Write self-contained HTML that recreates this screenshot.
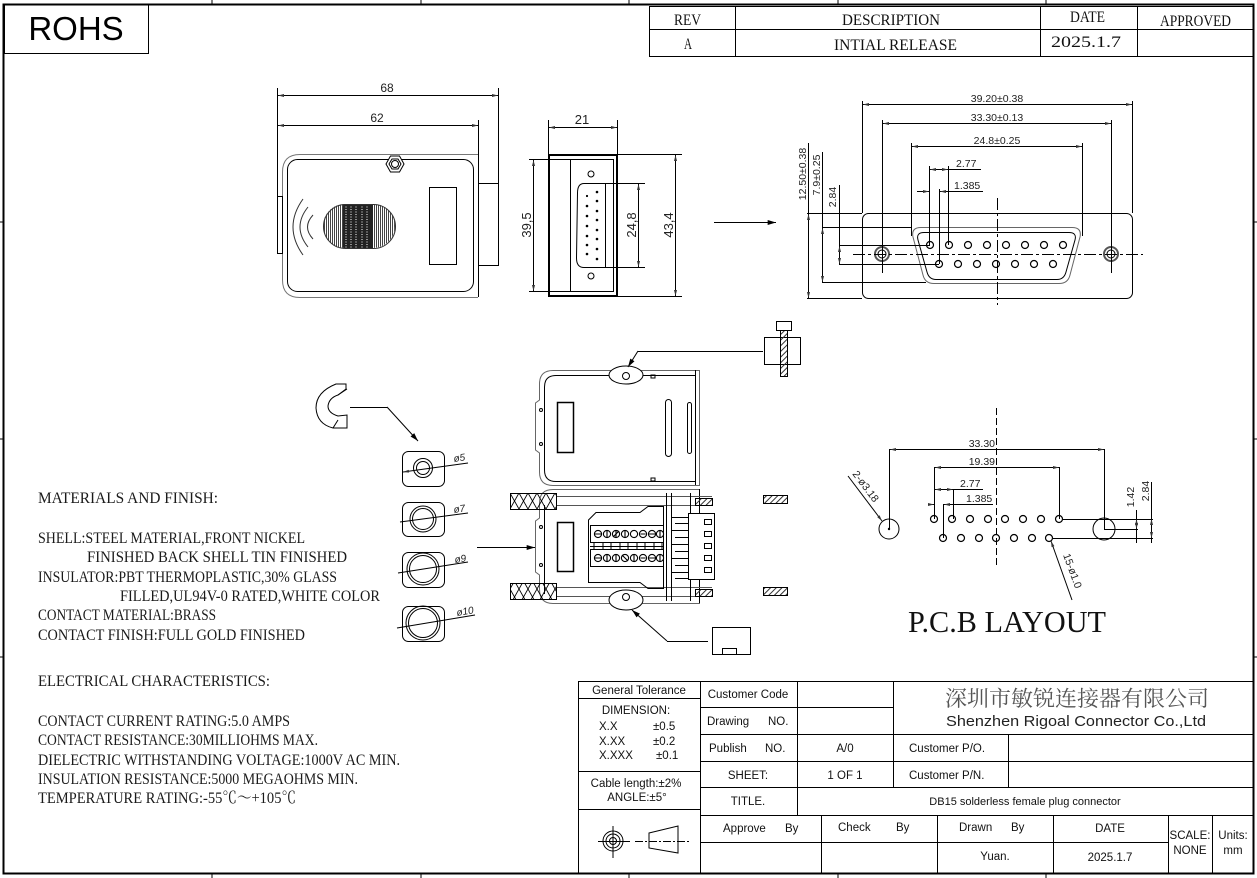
<!DOCTYPE html>
<html><head><meta charset="utf-8"><style>
html,body{margin:0;padding:0;background:#fff;}
svg{display:block;}
</style></head><body>
<svg width="1257" height="878" viewBox="0 0 1257 878" xmlns="http://www.w3.org/2000/svg" font-family="Liberation Sans, sans-serif">
<defs>
<marker id="ar" viewBox="0 0 8 4" refX="8" refY="2" markerWidth="7" markerHeight="3" markerUnits="userSpaceOnUse" orient="auto-start-reverse"><path d="M0,0 L8,2 L0,4 Z" fill="#333"/></marker>
<marker id="af" viewBox="0 0 10 6" refX="10" refY="3" markerWidth="9" markerHeight="5" markerUnits="userSpaceOnUse" orient="auto-start-reverse"><path d="M0,0 L10,3 L0,6 Z" fill="#000"/></marker>
<pattern id="vs" width="2" height="2" patternUnits="userSpaceOnUse"><rect x="0" y="0" width="1" height="2" fill="#444"/></pattern>
<pattern id="dh" width="4" height="4" patternUnits="userSpaceOnUse" patternTransform="rotate(45)"><rect x="0" y="0" width="1" height="4" fill="#333"/></pattern>
<pattern id="xh" width="9" height="16" patternUnits="userSpaceOnUse" x="510" y="493"><path d="M0,0 L9,16 M9,0 L0,16" stroke="#000" stroke-width="0.9" fill="none"/></pattern>
<clipPath id="ov"><rect x="323" y="204" width="72" height="44" rx="22"/></clipPath>
</defs>

<!-- frame -->
<rect x="3.5" y="4.5" width="1250" height="869" fill="none" stroke="#000" stroke-width="2"/>
<g stroke="#000" stroke-width="1">
<path d="M212 0V4 M421 0V4 M629 0V4 M838 0V4 M1046 0V4 M212 874V878 M421 874V878 M629 874V878 M838 874V878 M1046 874V878 M0 222H3 M0 439H3 M0 657H3 M1254 222H1257 M1254 439H1257 M1254 657H1257"/>
</g>

<!-- ROHS -->
<rect x="4.5" y="4.5" width="144" height="49" fill="none" stroke="#000" stroke-width="1"/>
<text x="76" y="40" font-size="33" text-anchor="middle" fill="#000">ROHS</text>

<!-- Rev table -->
<g fill="none" stroke="#000" stroke-width="1">
<rect x="649.5" y="6.5" width="604" height="50"/>
<path d="M649 29.5H1253 M735.5 6V56 M1040.5 6V56 M1137.5 6V56"/>
</g>
<g font-family="Liberation Serif, serif" font-size="16" fill="#111">
<text x="674" y="25" textLength="27" lengthAdjust="spacingAndGlyphs">REV</text>
<text x="842" y="25" textLength="98" lengthAdjust="spacingAndGlyphs">DESCRIPTION</text>
<text x="1070" y="22" textLength="35" lengthAdjust="spacingAndGlyphs">DATE</text>
<text x="1160" y="26" textLength="71" lengthAdjust="spacingAndGlyphs">APPROVED</text>
<text x="684" y="49" textLength="8" lengthAdjust="spacingAndGlyphs">A</text>
<text x="834" y="50" textLength="123" lengthAdjust="spacingAndGlyphs">INTIAL RELEASE</text>
<text x="1051" y="47" textLength="70" lengthAdjust="spacingAndGlyphs">2025.1.7</text>
</g>

<!-- Drawing 1: side view -->
<g fill="none" stroke="#000" stroke-width="1">
<path d="M277.5 88V253 M498.5 88V265 M478.5 120V297"/>
<line x1="278" y1="95.5" x2="498" y2="95.5" marker-start="url(#ar)" marker-end="url(#ar)"/>
<line x1="278" y1="125.5" x2="478" y2="125.5" marker-start="url(#ar)" marker-end="url(#ar)"/>
<path d="M478 154.5H300Q282.5 154.5 282.5 172V280Q282.5 297.5 300 297.5H478" stroke="#777"/>
<rect x="287.5" y="159.5" width="186" height="132" rx="10"/>
<rect x="277.5" y="196.5" width="5" height="57"/>
<rect x="478.5" y="183.5" width="20" height="82"/>
<polygon points="404,164 399.5,172 390.5,172 386,164 390.5,156 399.5,156" fill="#fff"/>
<polygon points="401,164 398,169 392,169 389,164 392,159 398,159"/>
<circle cx="395" cy="164" r="3.5"/>
<rect x="429.5" y="187.5" width="27" height="77"/>
<path d="M303 199Q283 227 303 255 M308 207Q292 227 308 247 M313 215Q302 227 313 239" stroke="#333"/>
</g>
<g clip-path="url(#ov)">
<rect x="323" y="204" width="72" height="44" fill="url(#vs)"/>
<rect x="343" y="204" width="30" height="44" fill="#222"/>
<path d="M346 204V248 M351 204V248 M356 204V248 M362 204V248 M367 204V248" stroke="#fff" stroke-width="1" stroke-dasharray="1 1.5"/>
</g>
<rect x="323.5" y="204.5" width="72" height="44" rx="22" fill="none" stroke="#333"/>
<g font-size="12" fill="#222" text-anchor="middle">
<text x="387" y="92">68</text>
<text x="377" y="122">62</text>
</g>

<!-- Drawing 2: front view -->
<g fill="none" stroke="#000" stroke-width="1">
<path d="M548.5 120V154 M617.5 120V154"/>
<line x1="549" y1="127.5" x2="617" y2="127.5" marker-start="url(#ar)" marker-end="url(#ar)"/>
<rect x="549" y="155" width="68" height="141" stroke-width="2"/>
<rect x="570.5" y="159.5" width="43" height="132"/>
<path d="M529 159.5H570 M529 291.5H570 M593 183.5H645 M593 267.5H645 M617 154.5H682 M617 296.5H682"/>
<line x1="533.5" y1="160" x2="533.5" y2="291" marker-start="url(#ar)" marker-end="url(#ar)"/>
<line x1="638.5" y1="184" x2="638.5" y2="267" marker-start="url(#ar)" marker-end="url(#ar)"/>
<line x1="675.5" y1="155" x2="675.5" y2="296" marker-start="url(#ar)" marker-end="url(#ar)"/>
<path d="M584 183.5H605.5V267.5H584Q576.5 267.5 576.5 258L577.5 193Q577.5 183.5 584 183.5Z"/>
<circle cx="591" cy="174" r="3"/><circle cx="591" cy="276" r="3"/>
</g>
<g fill="#000">
<circle cx="587" cy="196" r="1.1"/><circle cx="587" cy="206" r="1.3"/><circle cx="587" cy="216" r="1.3"/><circle cx="587" cy="226" r="1.3"/><circle cx="587" cy="236" r="1.3"/><circle cx="587" cy="245" r="1.3"/><circle cx="587" cy="254" r="1.3"/>
<circle cx="597" cy="192" r="1.3"/><circle cx="597" cy="201" r="1.3"/><circle cx="597" cy="211" r="1.3"/><circle cx="597" cy="220" r="1.3"/><circle cx="597" cy="230" r="1.3"/><circle cx="597" cy="239" r="1.3"/><circle cx="597" cy="249" r="1.3"/><circle cx="597" cy="259" r="1.3"/>
</g>
<g font-size="13" fill="#222" text-anchor="middle">
<text x="582" y="124">21</text>
<text transform="translate(531,225) rotate(-90)">39,5</text>
<text transform="translate(636,225) rotate(-90)">24,8</text>
<text transform="translate(673,225) rotate(-90)">43,4</text>
</g>
<line x1="714" y1="222.5" x2="776" y2="222.5" stroke="#000" marker-end="url(#af)"/>

<!-- Drawing 3: DB15 face -->
<g fill="none" stroke="#000" stroke-width="1">
<rect x="862.5" y="213.5" width="270" height="85" rx="6"/>
<path d="M921 227.5L1072 227.5Q1082 227.5 1080 237L1070 275Q1068 283.5 1059 283.5L934 283.5Q925 283.5 923 275L913 237Q911 227.5 921 227.5Z" stroke="#666"/>
<path d="M924 232.5L1069 232.5Q1077 232.5 1075 240L1066 272Q1064 279.5 1057 279.5L936 279.5Q929 279.5 927 272L918 240Q916 232.5 924 232.5Z"/>
<circle cx="882" cy="254" r="7" stroke="#555" stroke-width="2"/><circle cx="882" cy="254" r="4"/>
<circle cx="1111" cy="254" r="7" stroke="#555" stroke-width="2"/><circle cx="1111" cy="254" r="4"/>
<path d="M853 254.5H1143" stroke-dasharray="12 3 3 3"/>
<path d="M997.5 198V305" stroke-dasharray="12 3 3 3"/>
<path d="M862.5 101V213 M1132.5 101V213 M882.5 120V273 M1111.5 120V273 M911.5 143V236 M1082.5 143V236 M929.5 166V245 M948.5 166V245 M939.5 189V264"/>
<line x1="863" y1="104.5" x2="1132" y2="104.5" marker-start="url(#ar)" marker-end="url(#ar)"/>
<line x1="883" y1="123.5" x2="1111" y2="123.5" marker-start="url(#ar)" marker-end="url(#ar)"/>
<line x1="912" y1="146.5" x2="1082" y2="146.5" marker-start="url(#ar)" marker-end="url(#ar)"/>
<line x1="930" y1="169.5" x2="948" y2="169.5" marker-start="url(#ar)" marker-end="url(#ar)"/>
<path d="M948 169.5H981"/>
<line x1="917" y1="191.5" x2="929" y2="191.5" marker-end="url(#ar)"/>
<line x1="983" y1="191.5" x2="940" y2="191.5" marker-end="url(#ar)"/>
<path d="M807 213.5H862 M807 298.5H862 M822 227.5H911 M822 282.5H926 M839 245.5H930 M839 264.5H939"/>
<path d="M808.5 143V213 M822.5 152V227 M839.5 185V245"/>
<line x1="808.5" y1="214" x2="808.5" y2="298" marker-start="url(#ar)" marker-end="url(#ar)"/>
<line x1="822.5" y1="228" x2="822.5" y2="282" marker-start="url(#ar)" marker-end="url(#ar)"/>
<line x1="839.5" y1="246" x2="839.5" y2="264" marker-start="url(#ar)" marker-end="url(#ar)"/>
<g stroke-width="1.2">
<circle cx="930" cy="245" r="3.5"/><circle cx="949" cy="245" r="3.5"/><circle cx="968" cy="245" r="3.5"/><circle cx="987" cy="245" r="3.5"/><circle cx="1006" cy="245" r="3.5"/><circle cx="1025" cy="245" r="3.5"/><circle cx="1044" cy="245" r="3.5"/><circle cx="1063" cy="245" r="3.5"/>
<circle cx="939" cy="264" r="3.5"/><circle cx="958" cy="264" r="3.5"/><circle cx="977" cy="264" r="3.5"/><circle cx="996" cy="264" r="3.5"/><circle cx="1015" cy="264" r="3.5"/><circle cx="1034" cy="264" r="3.5"/><circle cx="1053" cy="264" r="3.5"/>
</g>
</g>
<g font-size="10.5" fill="#222">
<text x="997" y="102" text-anchor="middle">39.20±0.38</text>
<text x="997" y="121" text-anchor="middle">33.30±0.13</text>
<text x="997" y="144" text-anchor="middle">24.8±0.25</text>
<text x="956" y="167">2.77</text>
<text x="954" y="189">1.385</text>
<text transform="translate(806,174) rotate(-90)" text-anchor="middle">12.50±0.38</text>
<text transform="translate(820,175) rotate(-90)" text-anchor="middle">7.9±0.25</text>
<text transform="translate(836,197) rotate(-90)" text-anchor="middle">2.84</text>
</g>

<!-- Drawing 4: exploded view -->
<g fill="none" stroke="#000" stroke-width="1">
<!-- top hood -->
<path d="M699.5 370.5H553Q539.5 370.5 539.5 384V400L535.5 403V450L539.5 453V472Q539.5 485.5 553 485.5H699.5Z" stroke="#666"/>
<path d="M695.5 370V485 M695.5 375.5H556Q544.5 375.5 544.5 387V470Q544.5 481.5 556 481.5H695.5"/>
<circle cx="541" cy="410" r="1.5"/><circle cx="541" cy="444" r="1.5"/>
<rect x="557.5" y="402.5" width="16" height="50" stroke-width="1.5"/>
<rect x="665.5" y="399.5" width="6" height="57" rx="3"/>
<rect x="687.5" y="402.5" width="4" height="51" rx="2"/>
<rect x="651" y="375" width="4" height="3"/><rect x="651" y="478" width="4" height="3"/>
<ellipse cx="626" cy="375" rx="17" ry="9" fill="#fff"/>
<circle cx="626" cy="376" r="3.5"/>
<path d="M638 351.5H763"/>
<line x1="638" y1="351" x2="628" y2="367" marker-end="url(#af)"/>
<rect x="764.5" y="337.5" width="36" height="27" fill="#fff"/>
<rect x="780.5" y="330.5" width="7" height="46" fill="url(#dh)"/>
<rect x="776.5" y="321.5" width="15" height="9" fill="#fff"/>
<!-- bottom body -->
<path d="M699.5 489.5H553Q539.5 489.5 539.5 503V518L535.5 521V572L539.5 575V589Q539.5 603.5 553 603.5H699.5Z" stroke="#666"/>
<path d="M544.5 505V594 M699.5 489V603"/>
<circle cx="541" cy="527" r="1.5"/><circle cx="541" cy="565" r="1.5"/>
<path d="M556 496.5H712 M556 505.5H712 M556 587.5H712 M556 596.5H712" stroke="#555"/>
<rect x="510.5" y="493.5" width="46" height="16" fill="url(#xh)"/>
<rect x="510.5" y="583.5" width="46" height="16" fill="url(#xh)"/>
<rect x="695.5" y="498.5" width="17" height="7" fill="url(#dh)"/>
<rect x="695.5" y="589.5" width="17" height="7" fill="url(#dh)"/>
<path d="M666.5 493V601 M671.5 493V601 M690.5 493V601"/>
<path d="M672 517.5H688 M675 523.5H688 M672 530.5H688 M675 537.5H688 M672 544.5H688 M675 551.5H688 M672 558.5H688 M675 565.5H688 M672 572.5H688 M675 578.5H688"/>
<rect x="688.5" y="513.5" width="26" height="66" fill="#fff"/>
<rect x="704.5" y="519.5" width="7" height="5"/><rect x="704.5" y="531.5" width="7" height="5"/><rect x="704.5" y="543.5" width="7" height="5"/><rect x="704.5" y="555.5" width="7" height="5"/><rect x="704.5" y="567.5" width="7" height="5"/>
<path d="M588.5 520V582.5H640L648 588.5H663.5V506.5H648L640 512.5H596L588.5 520Z"/>
<rect x="590.5" y="525.5" width="73" height="17"/>
<rect x="590.5" y="549.5" width="73" height="17"/>
<path d="M590 546.5H664 M594 543V550 M603 543V550 M611 543V550 M620 543V550 M628 543V550 M637 543V550 M645 543V550 M654 543V550 M662 543V550"/>
<g stroke-width="1.1">
<circle cx="598" cy="534" r="3.6"/><circle cx="607" cy="534" r="3.6"/><circle cx="616" cy="534" r="3.6"/><circle cx="625" cy="534" r="3.6"/><circle cx="634" cy="534" r="3.6"/><circle cx="643" cy="534" r="3.6"/><circle cx="652" cy="534" r="3.6"/><circle cx="660" cy="534" r="3.6"/>
<circle cx="598" cy="558" r="3.6"/><circle cx="607" cy="558" r="3.6"/><circle cx="616" cy="558" r="3.6"/><circle cx="625" cy="558" r="3.6"/><circle cx="634" cy="558" r="3.6"/><circle cx="643" cy="558" r="3.6"/><circle cx="652" cy="558" r="3.6"/><circle cx="660" cy="558" r="3.6"/>
<path d="M594.4 534H601.6 M607 530.4V537.6 M616 530.4V537.6 M613 537L619 531 M625 530.4V537.6 M640.4 534H645.6 M648.4 534H655.6 M660 530.4V537.6 M594.4 558H601.6 M607 554.4V561.6 M616 554.4V561.6 M622 555L628 561 M634 554.4V561.6 M640.4 558H645.6 M648.4 558H655.6 M660 554.4V561.6"/>
</g>
<rect x="557.5" y="522.5" width="16" height="49" stroke-width="1.5"/>
<ellipse cx="626" cy="600" rx="17" ry="10" fill="#fff"/>
<circle cx="626" cy="597" r="3.5"/>
<path d="M667 641.5H708"/>
<line x1="667" y1="641" x2="632" y2="610" marker-end="url(#af)"/>
<rect x="712.5" y="627.5" width="38" height="27"/>
<rect x="722.5" y="648.5" width="14" height="6"/>
<line x1="477" y1="547.5" x2="535" y2="547.5" marker-end="url(#af)"/>
<rect x="763.5" y="495.5" width="24" height="8" fill="url(#dh)"/>
<rect x="763.5" y="587.5" width="24" height="8" fill="url(#dh)"/>
<!-- hook -->
<path d="M346 384L336 384Q316 392 316 408Q317 424 333 428L347 428L347 415L338 416Q328 413 328 406Q329 398 338 395L346 389Z"/>
<path d="M338 395L347 389 M333 428L338 420"/>
<path d="M350 407.5H387"/>
<line x1="387" y1="407" x2="418" y2="441" marker-end="url(#af)"/>
<!-- grommets -->
<rect x="402.5" y="451.5" width="42" height="35" rx="6"/>
<circle cx="423" cy="468" r="9.5"/><circle cx="423" cy="468" r="6.5"/>
<line x1="403" y1="472" x2="468" y2="463" marker-start="url(#ar)"/>
<rect x="402.5" y="502.5" width="42" height="34" rx="6"/>
<circle cx="423" cy="519" r="13"/><circle cx="423" cy="519" r="10.5"/>
<line x1="400" y1="522" x2="468" y2="513"/>
<rect x="402.5" y="552.5" width="42" height="35" rx="6"/>
<circle cx="423" cy="569" r="16"/><circle cx="423" cy="569" r="13.5"/>
<line x1="398" y1="573" x2="468" y2="562"/>
<rect x="402.5" y="606.5" width="42" height="35" rx="6"/>
<circle cx="423" cy="623" r="17"/><circle cx="423" cy="623" r="14.5"/>
<line x1="397" y1="628" x2="475" y2="615"/>
</g>
<g font-size="10" fill="#222" font-style="italic">
<text transform="translate(454,462) rotate(-8)">ø5</text>
<text transform="translate(454,513) rotate(-8)">ø7</text>
<text transform="translate(455,563) rotate(-8)">ø9</text>
<text transform="translate(457,616) rotate(-9)">ø10</text>
</g>

<!-- Drawing 5: PCB layout -->
<g fill="none" stroke="#000" stroke-width="1">
<path d="M996.5 408V565" stroke-dasharray="7 3"/>
<line x1="890" y1="449.5" x2="1104" y2="449.5" marker-start="url(#ar)" marker-end="url(#ar)"/>
<line x1="935" y1="467.5" x2="1059" y2="467.5" marker-start="url(#ar)" marker-end="url(#ar)"/>
<line x1="935" y1="489.5" x2="953" y2="489.5" marker-start="url(#ar)" marker-end="url(#ar)"/>
<path d="M953 489.5H983"/>
<line x1="929" y1="504.5" x2="934" y2="504.5" marker-end="url(#ar)"/>
<line x1="993" y1="504.5" x2="944" y2="504.5" marker-end="url(#ar)"/>
<path d="M889.5 449V529 M1104.5 449V529 M934.5 467V519 M1059.5 467V519 M953.5 489V519 M943.5 504V538"/>
<circle cx="889" cy="529" r="10"/><circle cx="1104" cy="529" r="11"/>
<circle cx="889" cy="529" r="0.7" fill="#000"/>
<path d="M1063 519.5H1153 M1053 538.5H1153 M1104 529.5H1138 M1136.5 510V543 M1151.5 482V543"/>
<line x1="1136.5" y1="519" x2="1136.5" y2="529" marker-start="url(#ar)" marker-end="url(#ar)"/>
<line x1="1151.5" y1="519" x2="1151.5" y2="538" marker-start="url(#ar)" marker-end="url(#ar)"/>
<line x1="848" y1="476" x2="882" y2="521" marker-end="url(#ar)"/>
<line x1="1072" y1="600" x2="1051" y2="541" marker-end="url(#ar)"/>
<g stroke-width="1.2">
<circle cx="934" cy="519" r="3.5"/><circle cx="952" cy="519" r="3.5"/><circle cx="970" cy="519" r="3.5"/><circle cx="988" cy="519" r="3.5"/><circle cx="1005" cy="519" r="3.5"/><circle cx="1023" cy="519" r="3.5"/><circle cx="1041" cy="519" r="3.5"/><circle cx="1059" cy="519" r="3.5"/>
<circle cx="943" cy="538" r="3.5"/><circle cx="961" cy="538" r="3.5"/><circle cx="979" cy="538" r="3.5"/><circle cx="996" cy="538" r="3.5"/><circle cx="1014" cy="538" r="3.5"/><circle cx="1032" cy="538" r="3.5"/><circle cx="1049" cy="538" r="3.5"/>
</g>
</g>
<g font-size="10.5" fill="#222">
<text x="995" y="447" text-anchor="end">33.30</text>
<text x="995" y="465" text-anchor="end">19.39</text>
<text x="960" y="487">2.77</text>
<text x="966" y="502">1.385</text>
<text transform="translate(1134,497) rotate(-90)" text-anchor="middle">1.42</text>
<text transform="translate(1149,491) rotate(-90)" text-anchor="middle">2.84</text>
<text transform="translate(852,474) rotate(53)">2-ø3.18</text>
<text transform="translate(1063,555) rotate(70)">15-ø1.0</text>
</g>
<text x="908" y="632" font-family="Liberation Serif, serif" font-size="31" fill="#111" textLength="198" lengthAdjust="spacingAndGlyphs">P.C.B LAYOUT</text>

<!-- Left text block -->
<g font-family="Liberation Serif, serif" font-size="16" fill="#1a1a1a" lengthAdjust="spacingAndGlyphs">
<text x="38" y="503" textLength="180" lengthAdjust="spacingAndGlyphs">MATERIALS AND FINISH:</text>
<text x="38" y="543" textLength="267" lengthAdjust="spacingAndGlyphs">SHELL:STEEL MATERIAL,FRONT NICKEL</text>
<text x="87" y="562" textLength="260" lengthAdjust="spacingAndGlyphs">FINISHED BACK SHELL TIN FINISHED</text>
<text x="38" y="582" textLength="299" lengthAdjust="spacingAndGlyphs">INSULATOR:PBT THERMOPLASTIC,30% GLASS</text>
<text x="120" y="601" textLength="260" lengthAdjust="spacingAndGlyphs">FILLED,UL94V-0 RATED,WHITE COLOR</text>
<text x="38" y="620" textLength="178" lengthAdjust="spacingAndGlyphs">CONTACT MATERIAL:BRASS</text>
<text x="38" y="640" textLength="267" lengthAdjust="spacingAndGlyphs">CONTACT FINISH:FULL GOLD FINISHED</text>
<text x="38" y="686" textLength="232" lengthAdjust="spacingAndGlyphs">ELECTRICAL CHARACTERISTICS:</text>
<text x="38" y="726" textLength="252" lengthAdjust="spacingAndGlyphs">CONTACT CURRENT RATING:5.0 AMPS</text>
<text x="38" y="745" textLength="280" lengthAdjust="spacingAndGlyphs">CONTACT RESISTANCE:30MILLIOHMS MAX.</text>
<text x="38" y="765" textLength="362" lengthAdjust="spacingAndGlyphs">DIELECTRIC WITHSTANDING VOLTAGE:1000V AC MIN.</text>
<text x="38" y="784" textLength="320" lengthAdjust="spacingAndGlyphs">INSULATION RESISTANCE:5000 MEGAOHMS MIN.</text>
<text x="38" y="803" textLength="258" lengthAdjust="spacingAndGlyphs" font-family="Liberation Serif, 'Noto Serif CJK SC', serif">TEMPERATURE RATING:-55℃～+105℃</text>
</g>

<!-- Title block -->
<g fill="none" stroke="#000" stroke-width="1">
<rect x="578.5" y="681.5" width="675" height="192"/>
<path d="M700.5 681V873 M578 698.5H700 M578 771.5H700 M578 809.5H700"/>
<path d="M700 707.5H893 M700 734.5H1253 M700 761.5H1253 M700 787.5H1253 M700 815.5H1253 M700 842.5H1168"/>
<path d="M797.5 681V815 M893.5 681V787 M1008.5 734V787"/>
<path d="M821.5 815V873 M937.5 815V873 M1053.5 815V873 M1168.5 815V873 M1212.5 815V873"/>
<circle cx="613" cy="841" r="10"/><circle cx="613" cy="841" r="7"/><circle cx="613" cy="841" r="3.5"/>
<path d="M613 826V858 M598 841.5H630"/>
<path d="M649 833L678 826V853L649 848Z"/>
<path d="M635 841.5H690" stroke-dasharray="8 2 2 2"/>
</g>
<g font-size="11.5" fill="#111">
<text x="639" y="694" text-anchor="middle">General Tolerance</text>
<text x="636" y="714" text-anchor="middle">DIMENSION:</text>
<text x="599" y="730">X.X</text><text x="653" y="730">±0.5</text>
<text x="599" y="745">X.XX</text><text x="653" y="745">±0.2</text>
<text x="599" y="759">X.XXX</text><text x="656" y="759">±0.1</text>
<text x="636" y="787" text-anchor="middle">Cable length:±2%</text>
<text x="637" y="801" text-anchor="middle">ANGLE:±5°</text>
<text x="748" y="698" text-anchor="middle">Customer Code</text>
<text x="707" y="725">Drawing</text><text x="768" y="725">NO.</text>
<text x="709" y="752">Publish</text><text x="765" y="752">NO.</text>
<text x="845" y="752" text-anchor="middle">A/0</text>
<text x="909" y="752">Customer  P/O.</text>
<text x="748" y="779" text-anchor="middle">SHEET:</text>
<text x="845" y="779" text-anchor="middle">1 OF 1</text>
<text x="909" y="779">Customer  P/N.</text>
<text x="748" y="805" text-anchor="middle">TITLE.</text>
<text x="1025" y="805" text-anchor="middle" font-size="11">DB15 solderless female plug connector</text>
<text x="723" y="832">Approve</text><text x="785" y="832">By</text>
<text x="838" y="831">Check</text><text x="896" y="831">By</text>
<text x="959" y="831">Drawn</text><text x="1011" y="831">By</text>
<text x="1110" y="832" text-anchor="middle">DATE</text>
<text x="1190" y="839" text-anchor="middle">SCALE:</text>
<text x="1190" y="854" text-anchor="middle">NONE</text>
<text x="1233" y="839" text-anchor="middle">Units:</text>
<text x="1233" y="854" text-anchor="middle">mm</text>
<text x="995" y="860" text-anchor="middle">Yuan.</text>
<text x="1110" y="861" text-anchor="middle">2025.1.7</text>
</g>
<text x="1077" y="706" text-anchor="middle" font-family="'Noto Serif CJK SC', 'Noto Sans CJK SC', serif" font-size="21.5" fill="#555" textLength="264" lengthAdjust="spacingAndGlyphs">深圳市敏锐连接器有限公司</text>
<text x="946" y="726" font-size="15" fill="#222" textLength="260" lengthAdjust="spacingAndGlyphs">Shenzhen Rigoal Connector Co.,Ltd</text>
</svg>
</body></html>
